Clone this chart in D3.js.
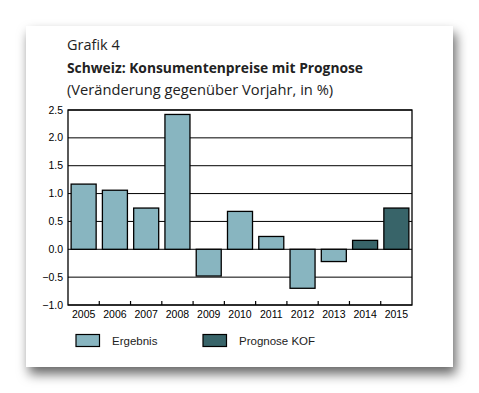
<!DOCTYPE html>
<html>
<head>
<meta charset="utf-8">
<script src="https://cdn.jsdelivr.net/npm/d3@7"></script>
<style>
  body { margin: 0; background: #fff; }
  svg { display: block; }
</style>
</head>
<body>
<svg id="chart" width="479" height="393"></svg>
<script>
var years = ["2005","2006","2007","2008","2009","2010","2011","2012","2013","2014","2015"]
var values = [1.17, 1.06, 0.74, 2.42, -0.48, 0.68, 0.23, -0.70, -0.22, 0.16, 0.74]
// which bars are the KOF forecast
var forecast = [0,0,0,0,0,0,0,0,0,1,1]
var yTicks = [-1.0, -0.5, 0.0, 0.5, 1.0, 1.5, 2.0, 2.5]
var legendLabels = ["Ergebnis", "Prognose KOF"]

var LIGHT = "#88b5c0"
var DARK = "#386469"

var svg = d3.select("#chart")

// shadow for the card
var defs = svg.append("defs")
var f = defs.append("filter").attr("id", "shadow")
    .attr("x", "-20%").attr("y", "-20%").attr("width", "140%").attr("height", "140%")
f.append("feDropShadow")
    .attr("dx", 3).attr("dy", 7).attr("stdDeviation", 6)
    .attr("flood-color", "#000").attr("flood-opacity", 0.6)

svg.append("rect")
    .attr("x", 26).attr("y", 26)
    .attr("width", 427).attr("height", 341)
    .attr("fill", "#fff")
    .attr("filter", "url(#shadow)")

// titles
var titleFont = "'Open Sans', sans-serif"
svg.append("text").attr("x", 67).attr("y", 50)
    .attr("font-family", titleFont).attr("font-size", 14.5).attr("fill", "#222")
    .text("Grafik 4")
svg.append("text").attr("x", 67).attr("y", 73)
    .attr("font-family", titleFont).attr("font-size", 13.8).attr("font-weight", "bold").attr("fill", "#222")
    .text("Schweiz: Konsumentenpreise mit Prognose")
svg.append("text").attr("x", 67).attr("y", 95)
    .attr("font-family", titleFont).attr("font-size", 14.7).attr("fill", "#222")
    .text("(Veränderung gegenüber Vorjahr, in %)")

var margin = {left: 68, top: 110, right: 412, bottom: 305}

var x = d3.scaleBand()
    .domain(years)
    .range([margin.left, margin.right])
    .paddingInner(0.2)
    .paddingOuter(0.1)

var y = d3.scaleLinear()
    .domain([-1.0, 2.5])
    .range([margin.bottom, margin.top])

var g = svg.append("g")

// grid lines
g.selectAll("line.grid")
    .data(yTicks)
  .enter().append("line")
    .attr("class", "grid")
    .attr("x1", margin.left).attr("x2", margin.right)
    .attr("y1", function(d) { return y(d) }).attr("y2", function(d) { return y(d) })
    .attr("stroke", "#000").attr("stroke-width", 1)

// bars
g.selectAll("rect.bar")
    .data(values)
  .enter().append("rect")
    .attr("class", "bar")
    .attr("x", function(d, i) { return x(years[i]) })
    .attr("width", x.bandwidth())
    .attr("y", function(d) { return y(Math.max(0, d)) })
    .attr("height", function(d) { return Math.abs(y(d) - y(0)) })
    .attr("fill", function(d, i) { return forecast[i] ? DARK : LIGHT })
    .attr("stroke", "#000").attr("stroke-width", 1.3)

// frame
g.append("rect")
    .attr("x", margin.left).attr("y", margin.top)
    .attr("width", margin.right - margin.left).attr("height", margin.bottom - margin.top)
    .attr("fill", "none").attr("stroke", "#000").attr("stroke-width", 1.3)

// y axis labels
var labelFont = "'Liberation Sans', Arial, sans-serif"
g.selectAll("text.ylab")
    .data(yTicks)
  .enter().append("text")
    .attr("class", "ylab")
    .attr("x", 63).attr("y", function(d) { return y(d) + 3.5 })
    .attr("text-anchor", "end")
    .attr("font-family", labelFont).attr("font-size", 10.5)
    .text(function(d) { return d3.format(".1f")(d) })

// x axis ticks at band boundaries
var step = x.step()
var bounds = years.slice(1).map(function(d) { return x(d) - step * x.paddingInner() / 2 })
g.selectAll("line.xtick")
    .data(bounds)
  .enter().append("line")
    .attr("x1", function(d) { return d }).attr("x2", function(d) { return d })
    .attr("y1", margin.bottom).attr("y2", margin.bottom - 4)
    .attr("stroke", "#000").attr("stroke-width", 1.2)

g.selectAll("text.xlab")
    .data(years)
  .enter().append("text")
    .attr("x", function(d) { return x(d) + x.bandwidth() / 2 })
    .attr("y", 318)
    .attr("text-anchor", "middle")
    .attr("font-family", labelFont).attr("font-size", 10.5)
    .text(function(d) { return d })

// legend
var legendX = [76, 203]
legendLabels.forEach(function(l, i) {
    svg.append("rect")
        .attr("x", legendX[i]).attr("y", 334.5)
        .attr("width", 23.5).attr("height", 12)
        .attr("fill", i ? DARK : LIGHT)
        .attr("stroke", "#000").attr("stroke-width", 1.2)
    svg.append("text")
        .attr("x", legendX[i] + 36).attr("y", 345)
        .attr("font-family", labelFont).attr("font-size", 11.5)
        .attr("fill", "#222")
        .text(l)
})
</script>
</body>
</html>
